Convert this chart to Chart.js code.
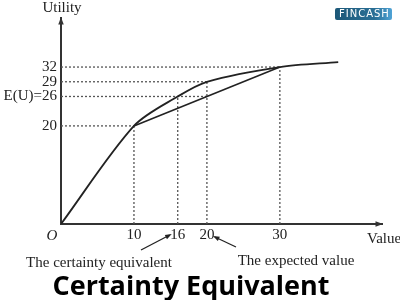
<!DOCTYPE html>
<html>
<head>
<meta charset="utf-8">
<script src="https://cdn.jsdelivr.net/npm/chart.js@4"></script>
<style>
  html, body { margin: 0; padding: 0; background: #fff; }
  #wrap { width: 400px; height: 300px; }
</style>
</head>
<body>
<div id="wrap"><canvas id="myChart"></canvas></div>
<script>
// utility function U(value)
const values = [0, 10, 16, 20, 30, 38];
const utility = [0, 20, 26, 29, 32, 33];

// chord between the two outcomes
const chordValues = [10, 30];
const chordUtility = [20, 32];

// dotted guides: value, utility, and how far the horizontal guide runs
const guideValues = [10, 16, 20, 30];
const guideUtility = [20, 26, 29, 32];
const guideHorizEnd = [10, 20, 20, 30];

const xTicks = [10, 16, 20, 30];
const yTicks = [20, 26, 29, 32];
const yTickLabels = ["20", "E(U)=26", "29", "32"];

const serif = "'Liberation Serif', 'DejaVu Serif', serif";
const dotted = { borderColor: "#555", borderWidth: 1.3, borderDash: [2, 2], pointRadius: 0, showLine: true, fill: false };

const datasets = [
  {
    data: values.map((v, i) => ({ x: v, y: utility[i] })),
    borderColor: "#222", borderWidth: 1.8, pointRadius: 0, showLine: true,
    tension: 0.3, fill: false,
  },
  {
    data: chordValues.map((v, i) => ({ x: v, y: chordUtility[i] })),
    borderColor: "#222", borderWidth: 1.6, pointRadius: 0, showLine: true, fill: false,
  },
];
guideValues.forEach((v, i) => {
  datasets.push({ ...dotted, data: [{ x: v, y: 0 }, { x: v, y: guideUtility[i] }] });
  datasets.push({ ...dotted, data: [{ x: 0, y: guideUtility[i] }, { x: guideHorizEnd[i], y: guideUtility[i] }] });
});

function arrow(ctx, x1, y1, x2, y2, size) {
  const a = Math.atan2(y2 - y1, x2 - x1);
  ctx.beginPath();
  ctx.moveTo(x2, y2);
  ctx.lineTo(x2 - size * Math.cos(a - 0.35), y2 - size * Math.sin(a - 0.35));
  ctx.lineTo(x2 - size * Math.cos(a + 0.35), y2 - size * Math.sin(a + 0.35));
  ctx.closePath();
  ctx.fill();
}

const extras = {
  id: "extras",
  afterDraw(chart) {
    const { ctx, chartArea: a } = chart;
    ctx.save();
    ctx.fillStyle = "#333";
    // axis arrowheads
    arrow(ctx, a.left, a.top + 10, a.left, a.top - 1, 8);
    arrow(ctx, a.right - 10, a.bottom, a.right + 1, a.bottom, 8);

    ctx.fillStyle = "#222";
    ctx.font = "15px " + serif;
    ctx.textBaseline = "alphabetic";
    ctx.textAlign = "center";
    ctx.fillText("Utility", a.left + 1, 12);
    ctx.textAlign = "left";
    ctx.fillText("Value", 367, 243);
    ctx.font = "italic 15px " + serif;
    ctx.textAlign = "center";
    ctx.fillText("O", a.left - 9, 240);

    // annotations
    const xs = chart.scales.x;
    ctx.font = "15px " + serif;
    ctx.fillText("The certainty equivalent", 99, 267);
    ctx.fillText("The expected value", 296, 265);
    ctx.strokeStyle = "#222";
    ctx.lineWidth = 1.3;
    const x16 = xs.getPixelForValue(16), x20 = xs.getPixelForValue(20);
    ctx.beginPath(); ctx.moveTo(141, 250); ctx.lineTo(x16 - 8, 235); ctx.stroke();
    arrow(ctx, 141, 250, x16 - 6, 234, 7);
    ctx.beginPath(); ctx.moveTo(236, 247); ctx.lineTo(x20 + 8, 237); ctx.stroke();
    arrow(ctx, 236, 247, x20 + 6, 236, 7);

    // logo badge
    const g = ctx.createLinearGradient(335, 0, 392, 0);
    g.addColorStop(0, "#1d5878");
    g.addColorStop(0.7, "#2a6f96");
    g.addColorStop(1, "#4fa3d6");
    ctx.fillStyle = g;
    ctx.beginPath(); ctx.roundRect(335, 8, 57, 12, 2); ctx.fill();
    ctx.fillStyle = "#fff";
    ctx.font = "10px 'DejaVu Sans', sans-serif";
    ctx.letterSpacing = "1px";
    ctx.textAlign = "left";
    ctx.textBaseline = "middle";
    ctx.fillText("FINCASH", 339, 14.5);
    ctx.restore();
  },
};

new Chart(document.getElementById("myChart"), {
  type: "scatter",
  data: { datasets },
  options: {
    responsive: true,
    maintainAspectRatio: false,
    animation: false,
    layout: { padding: { top: 18, right: 18, left: 0, bottom: 0 } },
    plugins: {
      legend: { display: false },
      tooltip: { enabled: false },
      title: {
        display: true,
        position: "bottom",
        text: "Certainty Equivalent",
        color: "#000",
        font: { family: "'Open Sans', sans-serif", size: 27, weight: "bold", lineHeight: 0.95 },
        padding: 0,
      },
    },
    scales: {
      x: {
        type: "linear", min: 0, max: 44,
        grid: { display: false, drawTicks: false },
        border: { color: "#333", width: 2 },
        afterBuildTicks: (s) => { s.ticks = xTicks.map((v) => ({ value: v })); },
        afterFit: (s) => { s.height = 300 - 224 - 25.65; },
        ticks: { autoSkip: false, maxRotation: 0, padding: 2, color: "#222", font: { family: serif, size: 15 } },
      },
      y: {
        type: "linear", min: 0, max: 42,
        grid: { display: false, drawTicks: false },
        border: { color: "#333", width: 2 },
        afterBuildTicks: (s) => { s.ticks = yTicks.map((v) => ({ value: v })); },
        afterFit: (s) => { s.width = 61; },
        ticks: {
          autoSkip: false, padding: 4, color: "#222", font: { family: serif, size: 15 },
          callback: (v) => yTickLabels[yTicks.indexOf(v)],
        },
      },
    },
  },
  plugins: [extras],
});
</script>
</body>
</html>
